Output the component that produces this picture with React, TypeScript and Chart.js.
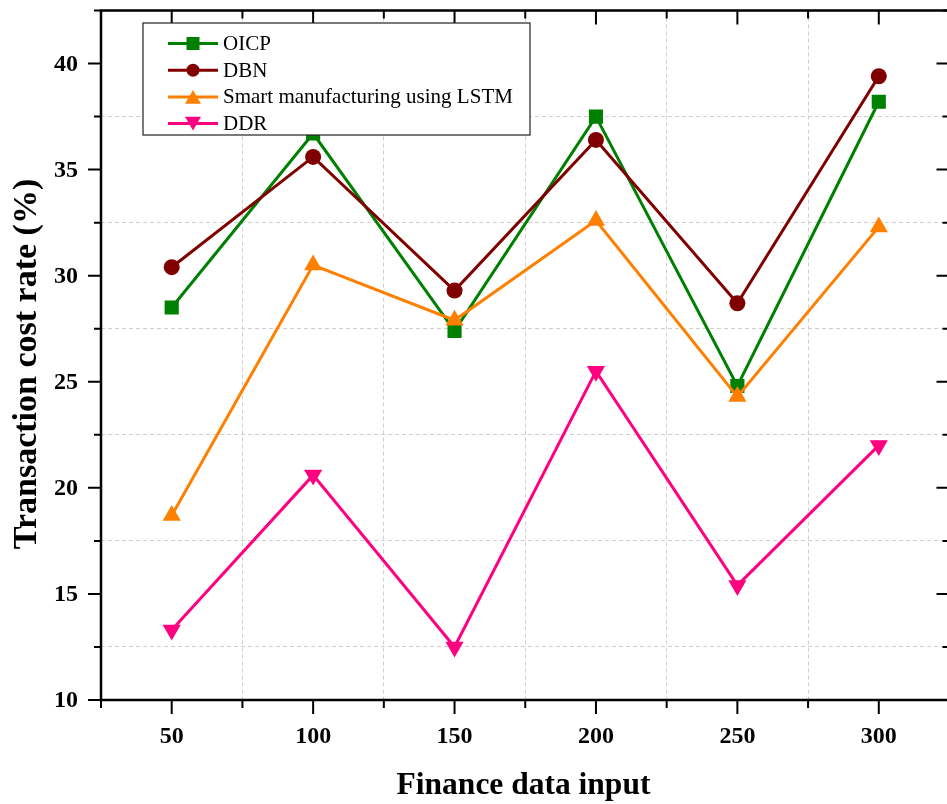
import React, { useEffect, useRef } from 'react';
import { Chart, registerables } from 'chart.js';

Chart.register(...registerables);

// ---- data ----
const xValues = [50, 100, 150, 200, 250, 300];
const oicpValues = [28.5, 36.7, 27.4, 37.5, 24.8, 38.2];
const dbnValues = [30.4, 35.6, 29.3, 36.4, 28.7, 39.4];
const lstmValues = [18.7, 30.5, 27.9, 32.6, 24.3, 32.3];
const ddrValues = [13.3, 20.6, 12.5, 25.5, 15.4, 22.0];

const seriesNames = ['OICP', 'DBN', 'Smart manufacturing using LSTM', 'DDR'];
const seriesColors = ['#008000', '#800000', '#FF8000', '#FF0080'];

const xTickValues = [25, 50, 75, 100, 125, 150, 175, 200, 225, 250, 275, 300];
const xLabelValues = [50, 100, 150, 200, 250, 300];
const yTickValues = [10, 12.5, 15, 17.5, 20, 22.5, 25, 27.5, 30, 32.5, 35, 37.5, 40, 42.5];
const yLabelValues = [10, 15, 20, 25, 30, 35, 40];

const xTitle = 'Finance data input';
const yTitle = 'Transaction cost rate (%)';

const X_MIN = 25;
const X_MAX = 325;
const Y_MIN = 10;
const Y_MAX = 42.5;

const FONT = '"Liberation Serif", "Times New Roman", serif';

function drawMarker(ctx: CanvasRenderingContext2D, kind: string, x: number, y: number, s: number, color: string) {
  ctx.save();
  ctx.fillStyle = color;
  ctx.beginPath();
  if (kind === 'rect') {
    ctx.rect(x - s / 2, y - s / 2, s, s);
  } else if (kind === 'circle') {
    ctx.arc(x, y, s / 2, 0, Math.PI * 2);
  } else if (kind === 'up') {
    const h = s * 0.87;
    ctx.moveTo(x, y - h / 2);
    ctx.lineTo(x + s / 2, y + h / 2);
    ctx.lineTo(x - s / 2, y + h / 2);
    ctx.closePath();
  } else {
    const h = s * 0.87;
    ctx.moveTo(x, y + h / 2);
    ctx.lineTo(x + s / 2, y - h / 2);
    ctx.lineTo(x - s / 2, y - h / 2);
    ctx.closePath();
  }
  ctx.fill();
  ctx.restore();
}

const framePlugin = {
  id: 'frame',
  afterDraw(chart: any) {
    const { ctx, chartArea } = chart;
    const { left, right, top, bottom } = chartArea;
    const xs = chart.scales.x;
    const ys = chart.scales.y;
    ctx.save();
    ctx.strokeStyle = '#000';
    ctx.lineWidth = 2;
    ctx.beginPath();
    xTickValues.forEach((v) => {
      const px = xs.getPixelForValue(v);
      const len = v % 50 === 0 ? 14 : 8;
      ctx.moveTo(px, bottom);
      ctx.lineTo(px, bottom + len);
      ctx.moveTo(px, top);
      ctx.lineTo(px, top + len);
    });
    yTickValues.forEach((v) => {
      const py = ys.getPixelForValue(v);
      const len = v % 5 === 0 ? 13 : 7;
      ctx.moveTo(left - len, py);
      ctx.lineTo(left, py);
      ctx.moveTo(right - len, py);
      ctx.lineTo(right, py);
    });
    ctx.stroke();

    ctx.lineWidth = 2.5;
    ctx.strokeRect(left, top, right - left, bottom - top);

    // tick labels
    ctx.fillStyle = '#000';
    ctx.font = `bold 24px ${FONT}`;
    ctx.textAlign = 'center';
    ctx.textBaseline = 'middle';
    xLabelValues.forEach((v) => {
      ctx.fillText(String(v), xs.getPixelForValue(v), bottom + 37);
    });
    ctx.textAlign = 'right';
    yLabelValues.forEach((v) => {
      ctx.fillText(String(v), left - 23, ys.getPixelForValue(v) + 1);
    });

    // axis titles
    ctx.font = `bold 31.5px ${FONT}`;
    ctx.textAlign = 'center';
    ctx.textBaseline = 'middle';
    ctx.fillText(xTitle, (left + 946) / 2, 786);
    ctx.save();
    ctx.font = `bold 34px ${FONT}`;
    ctx.translate(27, 364);
    ctx.rotate(-Math.PI / 2);
    ctx.fillText(yTitle, 0, 0);
    ctx.restore();

    // legend
    const lx = left + 42;
    const ly = top + 12.5;
    const lw = 387;
    const lh = 112;
    ctx.fillStyle = '#fff';
    ctx.fillRect(lx, ly, lw, lh);
    ctx.strokeStyle = '#222';
    ctx.lineWidth = 1.2;
    ctx.strokeRect(lx, ly, lw, lh);
    const kinds = ['rect', 'circle', 'up', 'down'];
    const sizes = [13, 13, 16, 16];
    ctx.font = `21px ${FONT}`;
    ctx.textAlign = 'left';
    ctx.textBaseline = 'middle';
    seriesNames.forEach((name, i) => {
      const cy = ly + 20.5 + i * 26.7;
      ctx.strokeStyle = seriesColors[i];
      ctx.lineWidth = 3;
      ctx.beginPath();
      ctx.moveTo(lx + 25, cy);
      ctx.lineTo(lx + 75, cy);
      ctx.stroke();
      drawMarker(ctx, kinds[i], lx + 50, cy, sizes[i], seriesColors[i]);
      ctx.fillStyle = '#000';
      ctx.fillText(name, lx + 80, cy + 1);
    });
    ctx.restore();
  },
};

function toPoints(values: number[]) {
  return xValues.map((x, i) => ({ x, y: values[i] }));
}

export default function App() {
  const ref = useRef<HTMLCanvasElement>(null);
  useEffect(() => {
    const canvas = ref.current;
    if (!canvas) return;
    const gridColorX = (c: any) => {
      const v = c.tick ? c.tick.value : 0;
      if (v % 50 === 0 || v <= X_MIN || v >= X_MAX) return 'rgba(0,0,0,0)';
      return '#cfcfcf';
    };
    const gridColorY = (c: any) => {
      const v = c.tick ? c.tick.value : 0;
      if (v % 5 === 0 || v <= Y_MIN || v >= Y_MAX) return 'rgba(0,0,0,0)';
      return '#cfcfcf';
    };
    const chart = new Chart(canvas, {
      type: 'line',
      data: {
        datasets: [
          {
            label: seriesNames[0],
            data: toPoints(oicpValues),
            borderColor: seriesColors[0],
            backgroundColor: seriesColors[0],
            pointStyle: 'rect',
            pointRadius: 10,
            pointBorderWidth: 0,
            borderWidth: 3,
            order: 4,
          },
          {
            label: seriesNames[1],
            data: toPoints(dbnValues),
            borderColor: seriesColors[1],
            backgroundColor: seriesColors[1],
            pointStyle: 'circle',
            pointRadius: 8,
            pointBorderWidth: 0,
            borderWidth: 3,
            order: 3,
          },
          {
            label: seriesNames[2],
            data: toPoints(lstmValues),
            borderColor: seriesColors[2],
            backgroundColor: seriesColors[2],
            pointStyle: 'triangle',
            pointRadius: 10.5,
            pointBorderWidth: 0,
            borderWidth: 3,
            order: 2,
          },
          {
            label: seriesNames[3],
            data: toPoints(ddrValues),
            borderColor: seriesColors[3],
            backgroundColor: seriesColors[3],
            pointStyle: 'triangle',
            pointRotation: 180,
            pointRadius: 10.5,
            pointBorderWidth: 0,
            borderWidth: 3,
            order: 1,
          },
        ],
      },
      options: {
        responsive: false,
        animation: false,
        devicePixelRatio: 1,
        layout: { padding: { top: 7, right: 7, left: 0, bottom: 0 } },
        plugins: { legend: { display: false }, tooltip: { enabled: false } },
        elements: { line: { tension: 0 } },
        scales: {
          x: {
            type: 'linear',
            min: X_MIN,
            max: X_MAX,
            afterBuildTicks: (s: any) => {
              s.ticks = xTickValues.map((v) => ({ value: v }));
            },
            afterFit: (s: any) => {
              s.height = 104;
            },
            ticks: { display: false },
            grid: { color: gridColorX, lineWidth: 1, drawTicks: false },
            border: { display: false, dash: [4, 3] },
          },
          y: {
            type: 'linear',
            min: Y_MIN,
            max: Y_MAX,
            afterBuildTicks: (s: any) => {
              s.ticks = yTickValues.map((v) => ({ value: v }));
            },
            afterFit: (s: any) => {
              s.width = 101;
            },
            ticks: { display: false },
            grid: { color: gridColorY, lineWidth: 1, drawTicks: false },
            border: { display: false, dash: [4, 3] },
          },
        },
      } as any,
      plugins: [framePlugin],
    });
    return () => chart.destroy();
  }, []);
  return (
    <div
      style={{
        position: 'absolute',
        left: 0,
        top: 0,
        width: 947,
        height: 804,
        overflow: 'hidden',
        background: '#fff',
      }}
    >
      <canvas ref={ref} width={960} height={804} style={{ display: 'block', width: 960, height: 804 }} />
    </div>
  );
}
